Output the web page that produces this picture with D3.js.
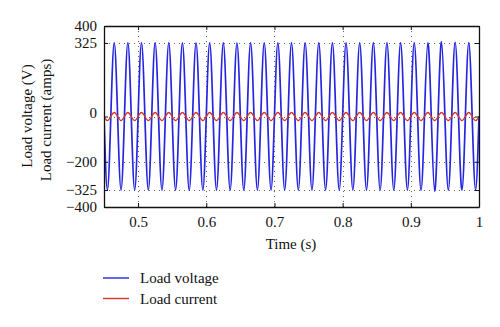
<!DOCTYPE html>
<html>
<head>
<meta charset="utf-8">
<script src="https://cdn.jsdelivr.net/npm/d3@7"></script>
<style>
  html, body { margin: 0; padding: 0; background: #fff; }
  svg { display: block; }
  text { font-family: "Liberation Serif", "DejaVu Serif", serif; fill: #111; }
</style>
</head>
<body>
<svg id="chart" width="500" height="327"></svg>
<script>
// ---- data ----
const xTicks = [0.5, 0.6, 0.7, 0.8, 0.9, 1];
const xTickLabels = ["0.5", "0.6", "0.7", "0.8", "0.9", "1"];
const yTicks = [-400, -325, -200, 0, 325, 400];
const yTickLabels = ["\u2212400", "\u2212325", "\u2212200", "0", "325", "400"];
const gridY = [-325, -200, 0, 325];
const gridX = [0.5, 0.6, 0.7, 0.8, 0.9];
const timeStart = 0.45;      // first zero crossing (s)
const halfPeriod = 0.01;     // 50 Hz signal
// extreme value of each half cycle, starting at 0.455 s
const voltageExtrema = [
  -325, 325, -325, 325, -325, 325, -325, 325, -325, 325,
  -325, 325, -326, 325, -325, 325, -325, 325, -325, 324,
  -325, 325, -325, 325, -325, 325, -325, 325, -325, 325,
  -325, 325, -325, 325, -325, 325, -325, 325, -325, 325,
  -325, 325, -325, 325, -325, 325, -325, 325, -330, 330,
  -325, 328, -325, 325, -325
];
const currentExtrema = [
  -18, 18, -18, 18, -18, 18, -18, 18, -18, 18,
  -18, 18, -18, 18, -18, 18, -18, 18, -18, 18,
  -18, 18, -18, 18, -18, 18, -18, 18, -18, 18,
  -18, 18, -18, 18, -18, 18, -18, 18, -18, 18,
  -18, 18, -18, 18, -18, 18, -18, 18, -18, 18,
  -18, 18, -18, 18, -18
];
const seriesNames = ["Load voltage", "Load current"];
const seriesColors = ["#2626e0", "#d03a26"];

// ---- layout ----
const svg = d3.select("#chart");
const L = 104, R = 479, T = 26, B = 207;
const x = d3.scaleLinear().domain([0.45, 1]).range([L, R]);
const y = d3.scaleLinear().domain([-400, 400]).range([B, T]);

function buildPoints(ext) {
  const pts = [[timeStart, 0]];
  ext.forEach((v, i) => {
    const tz = timeStart + i * halfPeriod;
    pts.push([tz + halfPeriod / 2, v]);
    pts.push([tz + halfPeriod, 0]);
  });
  return pts;
}

// clip
svg.append("clipPath").attr("id", "clip")
  .append("rect").attr("x", L).attr("y", T).attr("width", R - L).attr("height", B - T);

// grid
const grid = svg.append("g").attr("stroke", "#666").attr("stroke-width", 1)
  .attr("stroke-dasharray", "1,4");
grid.selectAll(".gx").data(gridX).join("line")
  .attr("x1", d => Math.round(x(d)) + 0.5).attr("x2", d => Math.round(x(d)) + 0.5)
  .attr("y1", T).attr("y2", B);
grid.selectAll(".gy").data(gridY).join("line")
  .attr("y1", d => Math.round(y(d)) + 0.5).attr("y2", d => Math.round(y(d)) + 0.5)
  .attr("x1", L).attr("x2", R);

// lines
const line = d3.line().x(d => x(d[0])).y(d => y(d[1])).curve(d3.curveNatural);
const plot = svg.append("g").attr("clip-path", "url(#clip)");
plot.append("path").datum(buildPoints(voltageExtrema))
  .attr("fill", "none").attr("stroke", seriesColors[0]).attr("stroke-width", 1.7)
  .attr("d", line);
plot.append("path").datum(buildPoints(currentExtrema))
  .attr("fill", "none").attr("stroke", seriesColors[1]).attr("stroke-width", 1.4)
  .attr("d", line);

// axes
const fs = 15;
const axB = svg.append("g").attr("transform", `translate(0,${B})`)
  .call(d3.axisBottom(x).tickValues(xTicks).tickFormat((d, i) => xTickLabels[i]).tickSizeInner(-4).tickSizeOuter(0).tickPadding(9));
const axT = svg.append("g").attr("transform", `translate(0,${T})`)
  .call(d3.axisTop(x).tickValues(xTicks).tickFormat("").tickSizeInner(-4).tickSizeOuter(0));
const axL = svg.append("g").attr("transform", `translate(${L},0)`)
  .call(d3.axisLeft(y).tickValues(yTicks).tickFormat((d, i) => yTickLabels[i]).tickSizeInner(-4).tickSizeOuter(0).tickPadding(7));
const axR = svg.append("g").attr("transform", `translate(${R},0)`)
  .call(d3.axisRight(y).tickValues(yTicks).tickFormat("").tickSizeInner(-4).tickSizeOuter(0));
[axB, axT, axL, axR].forEach(a => {
  a.selectAll("path").attr("stroke", "#111").attr("stroke-width", 1.3);
  a.selectAll("line").attr("stroke", "#111");
  a.selectAll("text").attr("font-size", fs).attr("font-family", "Liberation Serif, serif").attr("fill", "#111");
});
// the "0" label sits slightly above its tick in the reference
axL.selectAll(".tick text").filter(d => d === 0).attr("dy", "0.05em");

// axis titles
svg.append("text").attr("x", 291).attr("y", 249).attr("text-anchor", "middle")
  .attr("font-size", fs).text("Time (s)");
svg.append("text").attr("transform", "translate(32,116) rotate(-90)")
  .attr("text-anchor", "middle").attr("font-size", fs).text("Load voltage (V)");
svg.append("text").attr("transform", "translate(51,120) rotate(-90)")
  .attr("text-anchor", "middle").attr("font-size", fs).text("Load current (amps)");

// legend
const lg = svg.append("g");
seriesNames.forEach((n, i) => {
  const yy = 278 + i * 20.5;
  lg.append("line").attr("x1", 103).attr("x2", 129).attr("y1", yy).attr("y2", yy)
    .attr("stroke", seriesColors[i]).attr("stroke-width", 1.4);
  lg.append("text").attr("x", 140).attr("y", yy + 5).attr("font-size", fs).text(n);
});
</script>
</body>
</html>
